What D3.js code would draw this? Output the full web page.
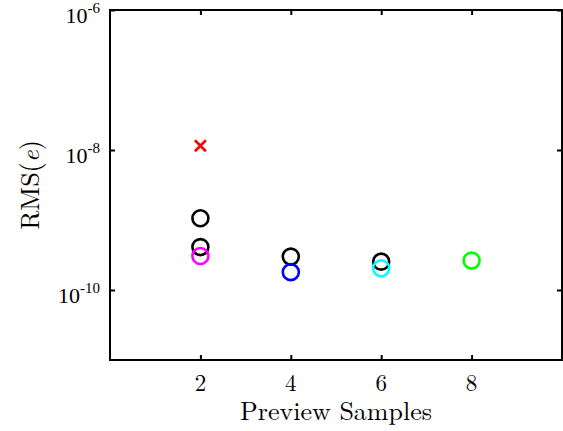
<!DOCTYPE html>
<html>
<head>
<meta charset="utf-8">
<script src="https://cdn.jsdelivr.net/npm/d3@7"></script>
<style>
  body { margin: 0; background: #fff; }
</style>
</head>
<body>
<div id="chart"></div>
<script>
// data
var xTicks = [2, 4, 6, 8];
var yTicks = [1e-10, 1e-8, 1e-6];
var yTickExp = ["-10", "-8", "-6"];

var blackX = [2, 2, 4, 6];
var blackY = [1.06e-9, 4.1e-10, 3.0e-10, 2.54e-10];
var magentaX = [2];
var magentaY = [3.06e-10];
var blueX = [4];
var blueY = [1.8e-10];
var cyanX = [6];
var cyanY = [2.04e-10];
var greenX = [8];
var greenY = [2.63e-10];
var redX = [2];
var redY = [1.15e-8];

var width = 563, height = 431;
var pLeft = 110, pRight = 562, pTop = 10, pBottom = 360;
var lmFont = "'Latin Modern Roman'";
var timesFont = "'Liberation Serif'";

var svg = d3.select("#chart").append("svg")
  .attr("width", width).attr("height", height);

var x = d3.scaleLinear().domain([0, 10]).range([pLeft, pRight]);
var y = d3.scaleLog().domain([1e-11, 1e-6]).range([pBottom, pTop]);

// axes, ticks pointing inward
svg.append("g").attr("transform", "translate(0," + pBottom + ")")
  .call(d3.axisBottom(x).tickValues(xTicks).tickSize(-5).tickFormat(""))
  .call(function(g) { g.select(".domain").remove(); });
svg.append("g").attr("transform", "translate(0," + pTop + ")")
  .call(d3.axisTop(x).tickValues(xTicks).tickSize(-5).tickFormat(""))
  .call(function(g) { g.select(".domain").remove(); });
svg.append("g").attr("transform", "translate(" + pLeft + ",0)")
  .call(d3.axisLeft(y).tickValues(yTicks).tickSize(-5).tickFormat(""))
  .call(function(g) { g.select(".domain").remove(); });
svg.append("g").attr("transform", "translate(" + pRight + ",0)")
  .call(d3.axisRight(y).tickValues(yTicks).tickSize(-5).tickFormat(""))
  .call(function(g) { g.select(".domain").remove(); });

svg.selectAll(".tick line").attr("stroke", "#000").attr("stroke-width", 2);

svg.append("rect")
  .attr("x", pLeft).attr("y", pTop)
  .attr("width", pRight - pLeft).attr("height", pBottom - pTop)
  .attr("fill", "none").attr("stroke", "#000").attr("stroke-width", 2);

// x tick labels
svg.selectAll(".xlab").data(xTicks).enter().append("text")
  .attr("x", function(d) { return x(d); })
  .attr("y", pBottom + 31)
  .attr("text-anchor", "middle")
  .style("font-family", lmFont)
  .style("font-size", "23px")
  .text(function(d) { return d; });

// y tick labels 10^n
var ylab = svg.selectAll(".ylab").data(yTicks).enter().append("text")
  .attr("x", pLeft - 10)
  .attr("y", function(d) { return y(d) + 13; })
  .attr("text-anchor", "end")
  .style("font-family", timesFont)
  .style("font-size", "22px");
ylab.append("tspan").text("10");
ylab.append("tspan")
  .attr("dy", -10)
  .style("font-size", "15px")
  .text(function(d, i) { return yTickExp[i]; });

// axis labels
svg.append("text")
  .attr("x", (pLeft + pRight) / 2)
  .attr("y", 420)
  .attr("text-anchor", "middle")
  .style("font-family", lmFont)
  .style("font-size", "26px")
  .text("Preview Samples");

var yl = svg.append("text")
  .attr("transform", "translate(39," + ((pTop + pBottom) / 2) + ") rotate(-90)")
  .attr("text-anchor", "middle")
  .style("font-family", lmFont)
  .style("font-size", "26px");
yl.append("tspan").text("RMS(");
yl.append("tspan").style("font-style", "italic").text("e");
yl.append("tspan").text(")");

// markers
function circles(xs, ys, color) {
  svg.append("g").selectAll("circle").data(xs).enter().append("circle")
    .attr("cx", function(d) { return x(d); })
    .attr("cy", function(d, i) { return y(ys[i]); })
    .attr("r", 8)
    .attr("fill", "none")
    .attr("stroke", color)
    .attr("stroke-width", 2.6);
}
circles(blackX, blackY, "#000000");
circles(magentaX, magentaY, "#ff00ff");
circles(blueX, blueY, "#0000ff");
circles(cyanX, cyanY, "#00ffff");
circles(greenX, greenY, "#00ff00");

svg.append("g").selectAll("path").data(redX).enter().append("path")
  .attr("d", function(d, i) {
    var cx = x(d), cy = y(redY[i]), s = 5.5;
    return "M" + (cx - s) + "," + (cy - s) + "L" + (cx + s) + "," + (cy + s) +
           "M" + (cx - s) + "," + (cy + s) + "L" + (cx + s) + "," + (cy - s);
  })
  .attr("stroke", "#ff0000")
  .attr("stroke-width", 2.5)
  .attr("fill", "none");
</script>
</body>
</html>
